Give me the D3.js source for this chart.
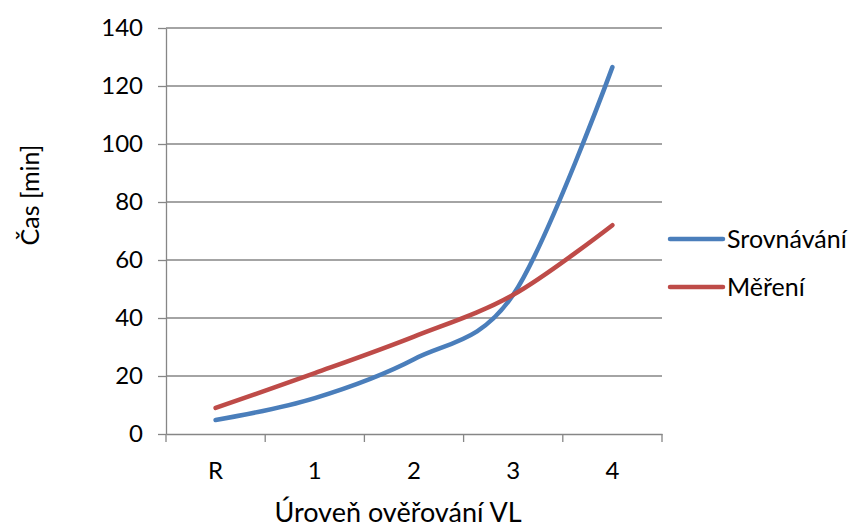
<!DOCTYPE html>
<html>
<head>
<meta charset="utf-8">
<script src="https://cdn.jsdelivr.net/npm/d3@7"></script>
<style>
  body { margin: 0; background: #fff; }
  svg text { font-family: Lato, 'Liberation Sans', sans-serif; fill: #000; }
</style>
</head>
<body>
<script>
// chart values
const categories = ['R', '1', '2', '3', '4'];
const srovnavani = [4.8, 12.4, 25.8, 48, 126.5];
const mereni = [9, 21, 33.6, 48, 72];
const yTicks = [0, 20, 40, 60, 80, 100, 120, 140];
const seriesNames = ['Srovnávání', 'Měření'];
const seriesColors = ['#4a7ebb', '#be4b48'];

const width = 848;
const height = 527;
const plot = { left: 166, right: 662, top: 28, bottom: 434 };

const svg = d3.select('body')
  .append('svg')
    .attr('width', width)
    .attr('height', height);

const xScale = d3.scaleBand()
  .domain(categories)
  .range([plot.left, plot.right]);

const yScale = d3.scaleLinear()
  .domain([0, 140])
  .range([plot.bottom, plot.top]);

// horizontal grid lines
svg.append('g')
  .selectAll('line')
  .data(yTicks.filter((d) => d > 0))
  .enter().append('line')
    .attr('x1', plot.left)
    .attr('x2', plot.right)
    .attr('y1', (d) => yScale(d))
    .attr('y2', (d) => yScale(d))
    .attr('stroke', '#868686')
    .attr('stroke-width', 1.3);

// y axis
const yAxis = d3.axisLeft(yScale)
  .tickValues(yTicks)
  .tickSizeOuter(0)
  .tickSizeInner(8)
  .tickPadding(15);

const yG = svg.append('g')
  .attr('transform', 'translate(' + plot.left + ',0)')
  .call(yAxis);
yG.selectAll('path, line').attr('stroke', '#868686').attr('stroke-width', 1.3);
yG.selectAll('text')
  .attr('font-size', 24)
  .style('font-family', 'Lato, sans-serif')
  .attr('fill', '#000');

// x axis, ticks at category boundaries
const xAxis = d3.axisBottom(xScale)
  .tickSize(0)
  .tickPadding(28);

const xG = svg.append('g')
  .attr('transform', 'translate(0,' + plot.bottom + ')')
  .call(xAxis);
xG.select('.domain').attr('stroke', '#868686').attr('stroke-width', 1.3);
xG.selectAll('text')
  .attr('font-size', 24)
  .style('font-family', 'Lato, sans-serif')
  .attr('fill', '#000');

const boundaries = categories.map((c) => xScale(c)).concat([xScale.range()[1]]);
xG.selectAll('.bound')
  .data(boundaries)
  .enter().append('line')
    .attr('class', 'bound')
    .attr('x1', (d) => d)
    .attr('x2', (d) => d)
    .attr('y1', 0)
    .attr('y2', 8)
    .attr('stroke', '#868686')
    .attr('stroke-width', 1.3);

// smoothed lines like the spreadsheet's
const line = d3.line()
  .x((d, i) => xScale(categories[i]) + xScale.bandwidth() / 2)
  .y((d) => yScale(d))
  .curve(d3.curveCardinal.tension(0));

[srovnavani, mereni].forEach((values, i) => {
  svg.append('path')
    .datum(values)
    .attr('d', line)
    .attr('fill', 'none')
    .attr('stroke', seriesColors[i])
    .attr('stroke-width', 4.5)
    .attr('stroke-linecap', 'round')
    .attr('stroke-linejoin', 'round');
});

// legend
const legend = svg.append('g');
const legendY = [239, 287];
seriesNames.forEach((name, i) => {
  legend.append('line')
    .attr('x1', 670)
    .attr('x2', 723)
    .attr('y1', legendY[i])
    .attr('y2', legendY[i])
    .attr('stroke', seriesColors[i])
    .attr('stroke-width', 4.5)
    .attr('stroke-linecap', 'round');
  legend.append('text')
    .attr('x', 727)
    .attr('y', legendY[i] + 9)
    .attr('font-size', 25)
    .text(name);
});

// axis titles
svg.append('text')
  .attr('transform', 'translate(39,195) rotate(-90)')
  .attr('text-anchor', 'middle')
  .attr('font-size', 25)
  .text('Čas [min]');

svg.append('text')
  .attr('x', 398)
  .attr('y', 522)
  .attr('text-anchor', 'middle')
  .attr('font-size', 27)
  .text('Úroveň ověřování VL');
</script>
</body>
</html>
